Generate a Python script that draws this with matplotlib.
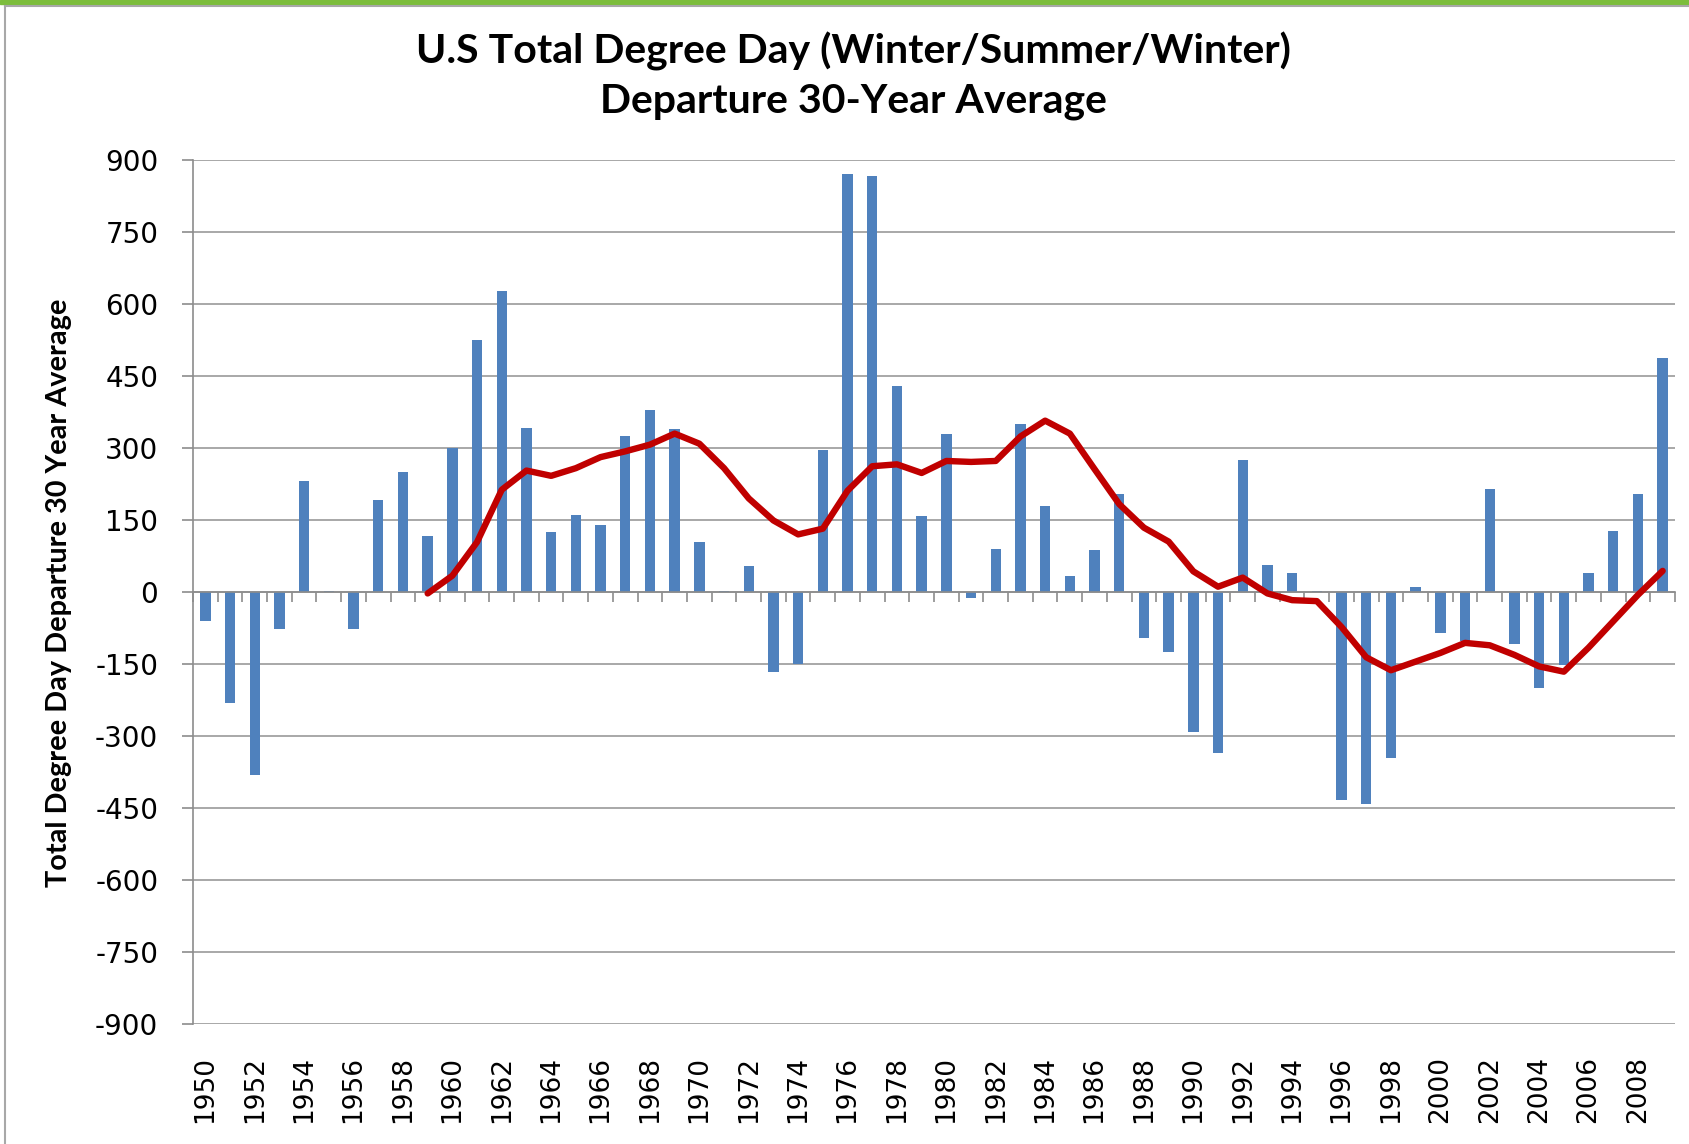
import matplotlib
matplotlib.use("Agg")
import matplotlib.pyplot as plt
from matplotlib.patches import Rectangle
from matplotlib.lines import Line2D
import numpy as np

# yearly departure from the 30-year average (bars)
years = list(range(1950, 2010))
departure = [-60, -231, -382, -77, 232, 3, -77, 191, 251, 117,
             300, 525, 627, 341, 125, 161, 140, 325, 380, 339,
             105, 3, 54, -166, -149, 296, 870, 867, 430, 159,
             330, -12, 89, 350, 179, 33, 87, 205, -95, -125,
             -292, -335, 274, 57, 40, 3, -434, -441, -345, 11,
             -85, -103, 215, -109, -199, -152, 40, 128, 205, 487]

# smoothed curve (red line), starts in 1959
trend_years = list(range(1959, 2010))
trend = [-3, 34, 104, 213, 253, 242, 258, 281, 293, 307,
         330, 309, 258, 195, 149, 120, 132, 211, 262, 266,
         248, 273, 271, 273, 324, 357, 330, 256, 183, 134,
         105, 43, 11, 30, -3, -17, -19, -73, -136, -163,
         -145, -127, -106, -111, -131, -155, -166, -116, -61, -6, 44]

yticks = list(range(-900, 901, 150))

W, H = 1690, 1144
fig = plt.figure(figsize=(W / 100, H / 100), dpi=100)

# slide frame: green band on top + gray border
fig.patches.append(Rectangle((0, 1 - 4 / H), 1, 4 / H, transform=fig.transFigure,
                             color="#7cbd3c", zorder=0))
fig.lines.append(Line2D([5 / W, 1], [1 - 6 / H, 1 - 6 / H], transform=fig.transFigure,
                        color="#a8a8a8", lw=1.5))
fig.lines.append(Line2D([5.5 / W, 5.5 / W], [0, 1 - 6 / H], transform=fig.transFigure,
                        color="#a8a8a8", lw=1.5))

ax = fig.add_axes([193 / W, 1 - 1024 / H, (1675 - 193) / W, (1024 - 160) / H])

x = np.arange(len(years))
ax.bar(x, departure, width=0.42, color="#4f81bd", zorder=2)
tx = [years.index(y) for y in trend_years]
ax.plot(tx, trend, color="#c00000", lw=4.6, solid_capstyle="round",
        solid_joinstyle="round", zorder=3)

ax.set_xlim(-0.5, len(years) - 0.5)
ax.set_ylim(-900, 900)
ax.set_yticks(yticks)
ax.set_yticklabels([str(v) for v in yticks])
ax.yaxis.grid(True, color="#9a9a9a", lw=1.2)
ax.set_axisbelow(True)

gray = "#8c8c8c"
for s in ["top", "right"]:
    ax.spines[s].set_visible(False)
ax.spines["left"].set_color(gray)
ax.spines["left"].set_linewidth(1.2)
ax.spines["bottom"].set_position(("data", 0))
ax.spines["bottom"].set_color(gray)
ax.spines["bottom"].set_linewidth(1.2)

# category boundary ticks on the zero line
ax.set_xticks(np.arange(-0.5, len(years), 1))
ax.tick_params(axis="x", direction="out", length=7.5, width=1.2, color=gray,
               labelbottom=False)
ax.tick_params(axis="y", direction="out", length=8, width=1.2, color=gray,
               pad=17, labelsize=20)

# year labels at the bottom of the plot
sec = ax.secondary_xaxis("bottom")
sec.set_xticks(x[::2])
sec.set_xticklabels([str(y) for y in years[::2]], rotation=90,
                    fontfamily="DejaVu Sans", fontsize=19)
sec.tick_params(axis="x", length=0, pad=23)
sec.spines["bottom"].set_visible(False)

fig.text(853 / W, 1 - 51 / H, "U.S Total Degree Day (Winter/Summer/Winter)",
         ha="center", va="center", fontsize=29.5, fontweight="bold", family="Lato")
fig.text(853 / W, 1 - 102 / H, "Departure 30-Year Average",
         ha="center", va="center", fontsize=29.5, fontweight="bold", family="Lato")
fig.text(59 / W, 1 - 593 / H, "Total Degree Day Departure 30 Year Average",
         ha="center", va="center", rotation=90, fontsize=20.8, fontweight="bold",
         family="Lato")

fig.savefig("out.png", dpi=100)
